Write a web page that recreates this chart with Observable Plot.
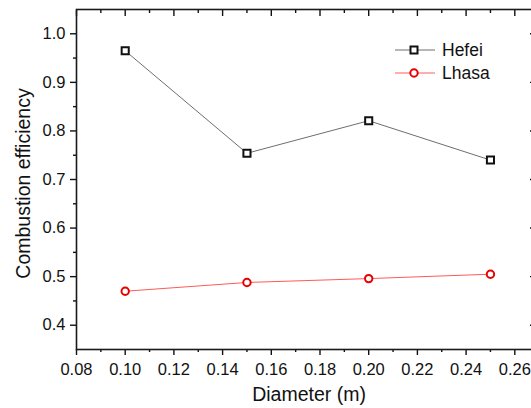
<!DOCTYPE html>
<html>
<head>
<meta charset="utf-8">
<script src="https://cdn.jsdelivr.net/npm/d3@7"></script>
<script src="https://cdn.jsdelivr.net/npm/@observablehq/plot@0.6"></script>
<style>
  html, body { margin: 0; padding: 0; background: #fff; overflow: hidden; }
  #wrap { position: relative; width: 531px; height: 408px; overflow: hidden; font-family: "Liberation Sans", Arial, sans-serif; }
  #wrap > svg { max-width: none !important; width: 560px !important; height: 408px !important; display: block; }
  #legend { position: absolute; left: 394px; top: 39px; font-size: 17.5px; color: #111; }
  .row { display: flex; align-items: center; height: 22.7px; }
  .row svg { margin-right: 6px; }
</style>
</head>
<body>
<div id="wrap"></div>
<script>
// ---- data ----
const diameters = [0.10, 0.15, 0.20, 0.25];
const hefei = [0.965, 0.754, 0.821, 0.740];
const lhasa = [0.470, 0.488, 0.496, 0.505];
const xTicks = [0.08, 0.10, 0.12, 0.14, 0.16, 0.18, 0.20, 0.22, 0.24, 0.26];
const xMinorTicks = [0.09, 0.11, 0.13, 0.15, 0.17, 0.19, 0.21, 0.23, 0.25];
const yTicks = [0.4, 0.5, 0.6, 0.7, 0.8, 0.9, 1.0];
const yMinorTicks = [0.45, 0.55, 0.65, 0.75, 0.85, 0.95];
const seriesNames = ["Hefei", "Lhasa"];
const xTitle = "Diameter (m)";
const yTitle = "Combustion efficiency";

const rowsH = diameters.map((d, i) => ({x: d, y: hefei[i]}));
const rowsL = diameters.map((d, i) => ({x: d, y: lhasa[i]}));

const font = "Liberation Sans, Arial, sans-serif";
const tickFont = 16.5;

const chart = Plot.plot({
  width: 560,
  height: 408,
  marginLeft: 76,
  marginRight: 25,
  marginTop: 9,
  marginBottom: 59,
  style: {fontFamily: font, background: "#fff", color: "#111", maxWidth: "none"},
  x: {domain: [0.08, 0.2685]},
  y: {domain: [0.35, 1.05]},
  marks: [
    Plot.axisX({ticks: xTicks, tickSize: 6, tickPadding: 8, tickFormat: d3.format(".2f"), label: null, fontSize: tickFont, strokeWidth: 1.4}),
    Plot.axisX({ticks: xMinorTicks, tickSize: 3, tickFormat: () => "", label: null, strokeWidth: 1.4}),
    Plot.axisX({anchor: "top", ticks: xTicks, tickSize: -6, tickFormat: () => "", label: null, strokeWidth: 1.4}),
    Plot.axisX({anchor: "top", ticks: xMinorTicks, tickSize: -3, tickFormat: () => "", label: null, strokeWidth: 1.4}),
    Plot.axisY({ticks: yTicks, tickSize: 6, tickPadding: 5, tickFormat: d3.format(".1f"), label: null, fontSize: tickFont, strokeWidth: 1.4}),
    Plot.axisY({ticks: yMinorTicks, tickSize: 3, tickFormat: () => "", label: null, strokeWidth: 1.4}),
    Plot.axisY({anchor: "right", ticks: yTicks, tickSize: -6, tickFormat: () => "", label: null, strokeWidth: 1.4}),
    Plot.axisY({anchor: "right", ticks: yMinorTicks, tickSize: -3, tickFormat: () => "", label: null, strokeWidth: 1.4}),
    Plot.frame({stroke: "#1a1a1a", strokeWidth: 1.6}),
    Plot.text([xTitle], {frameAnchor: "bottom", textAnchor: "middle", dy: 51, dx: 3, fontSize: 19.5, fill: "#111"}),
    Plot.text([yTitle], {frameAnchor: "left", textAnchor: "middle", rotate: -90, dx: -53, dy: 4, fontSize: 19.5, fill: "#111"}),
    Plot.line(rowsH, {x: "x", y: "y", stroke: "#6e6e6e", strokeWidth: 1}),
    Plot.line(rowsL, {x: "x", y: "y", stroke: "#ff5a5a", strokeWidth: 1}),
    Plot.dot(rowsH, {x: "x", y: "y", symbol: "square", r: 4, stroke: "#111", strokeWidth: 2, fill: "#fff"}),
    Plot.dot(rowsL, {x: "x", y: "y", symbol: "circle", r: 3.7, stroke: "#e80000", strokeWidth: 2, fill: "#fff"})
  ]
});

const wrap = document.getElementById("wrap");
wrap.appendChild(chart);

// legend
const legend = document.createElement("div");
legend.id = "legend";
const styles = [
  {line: "#6e6e6e", marker: `<rect x="16.5" y="5.5" width="7" height="7" fill="#fff" stroke="#111" stroke-width="2"/>`},
  {line: "#ff5a5a", marker: `<circle cx="20" cy="9" r="3.7" fill="#fff" stroke="#e80000" stroke-width="2"/>`}
];
seriesNames.forEach((name, i) => {
  const row = document.createElement("div");
  row.className = "row";
  row.innerHTML = `<svg width="42" height="18"><line x1="1" y1="9" x2="41" y2="9" stroke="${styles[i].line}" stroke-width="1"/>${styles[i].marker}</svg><span>${name}</span>`;
  legend.appendChild(row);
});
wrap.appendChild(legend);
</script>
</body>
</html>
